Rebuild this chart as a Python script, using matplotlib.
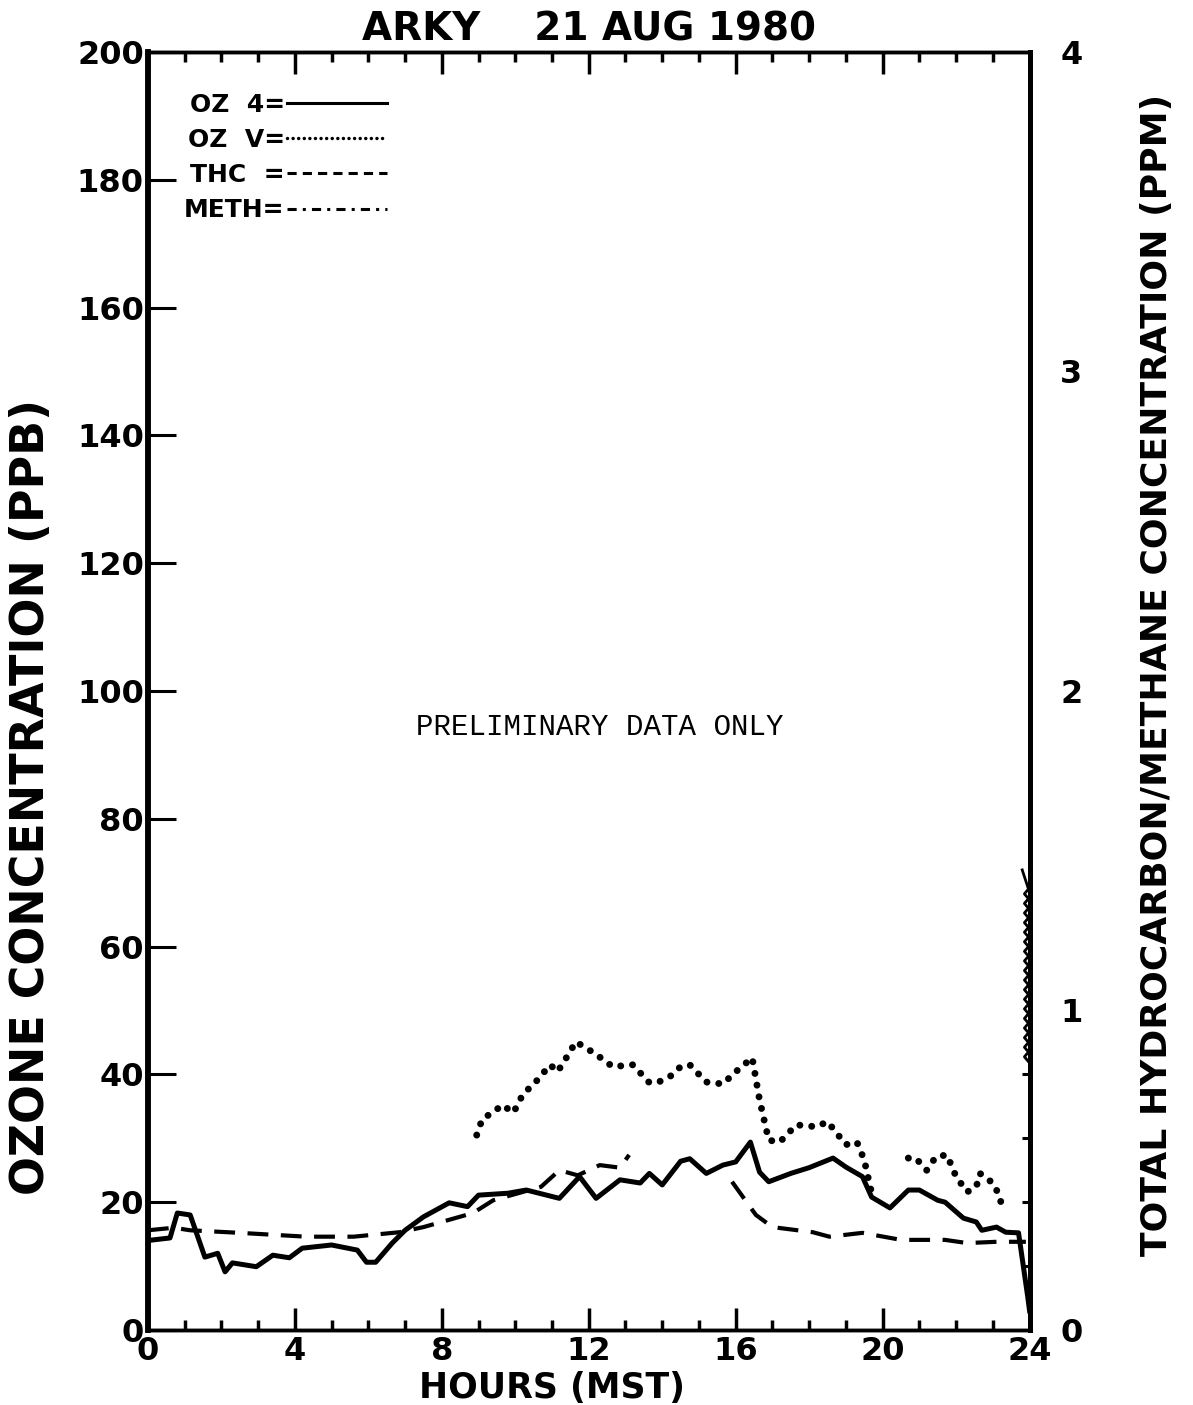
import numpy as np
import matplotlib.pyplot as plt
from matplotlib.lines import Line2D

# ozone, instrument 4 (ppb)
oz4_hours = [0, 0.6, 0.8, 1.15, 1.55, 1.9, 2.1, 2.3, 2.95, 3.4,
             3.85, 4.2, 5.0, 5.7, 5.95, 6.2, 6.65, 7.0, 7.5, 8.2,
             8.7, 9.0, 9.8, 10.3, 11.2, 11.75, 12.2, 12.85, 13.4, 13.65,
             14.0, 14.5, 14.75, 15.2, 15.65, 16.0, 16.4, 16.65, 16.9, 17.5,
             18.0, 18.65, 19.0, 19.45, 19.7, 20.2, 20.7, 21.0, 21.5, 21.7,
             22.2, 22.55, 22.7, 23.1, 23.35, 23.7, 23.95, 24.0]
oz4 = [14.0, 14.4, 18.3, 18.0, 11.4, 12.0, 9.1, 10.5, 9.9, 11.7,
       11.3, 12.8, 13.3, 12.5, 10.6, 10.6, 13.6, 15.6, 17.7, 19.9,
       19.3, 21.1, 21.4, 21.9, 20.6, 24.0, 20.6, 23.5, 23.0, 24.5,
       22.7, 26.4, 26.8, 24.5, 25.8, 26.3, 29.4, 24.7, 23.2, 24.5,
       25.4, 26.9, 25.5, 24.0, 20.8, 19.1, 21.9, 21.9, 20.3, 20.0,
       17.5, 16.9, 15.6, 16.1, 15.3, 15.2, 5.2, 3.0]

# ozone, instrument V (ppb)
ozv_hours = [8.95, 9.1, 9.4, 9.65, 9.95, 10.2, 10.6, 10.95, 11.15, 11.4, 11.65,
             12.1, 12.4, 12.65, 13.2, 13.65, 13.9, 14.2, 14.5, 14.75, 15.2,
             15.65, 16.0, 16.45, 16.65, 16.9, 17.2, 17.65, 18.2, 18.5, 18.75,
             19.0, 19.3, 19.5, 19.65, 19.75, 20.2, 20.7, 20.9, 21.2, 21.45,
             21.75, 22.0, 22.3, 22.55, 22.65, 23.0, 23.2, 23.25]
ozv = [30.5, 33.0, 34.1, 35.2, 34.0, 36.8, 39.1, 41.5, 40.4, 42.7, 45.1,
       43.5, 42.3, 41.2, 41.5, 38.7, 38.8, 39.6, 41.2, 41.5, 38.8,
       38.5, 40.4, 42.6, 36.0, 29.7, 29.4, 32.1, 31.8, 32.6, 30.8,
       29.0, 29.4, 26.6, 22.7, 20.3, np.nan, 26.9, 26.9, 25.0, 27.1,
       27.4, 24.0, 21.6, 22.4, 24.5, 23.0, 20.8, 18.5]

# total hydrocarbon (ppm)
thc_hours = [0, 0.7, 1.15, 2.5, 4.3, 5.6, 6.85, 7.5, 8.85, 9.4,
             10.7, 11.2, 11.7, 12.3, 12.85, 13.1, 14.5, 15.9, 16.55, 17.0,
             18.1, 18.55, 19.45, 20.5, 21.7, 22.3, 23.1, 23.65, 23.9]
thc = [0.312, 0.320, 0.312, 0.304, 0.292, 0.292, 0.306, 0.322, 0.366, 0.406,
       0.448, 0.500, 0.484, 0.516, 0.508, 0.548, np.nan, 0.464, 0.360, 0.322,
       0.306, 0.292, 0.304, 0.282, 0.282, 0.272, 0.276, 0.276, 0.276]

# methane (ppm), only the last minutes of the day
meth_hours = [23.97, 23.86, 23.97, 23.86, 23.97, 23.86, 23.97, 23.86, 23.97, 23.86,
              23.97, 23.86, 23.97, 23.86, 23.97, 23.86, 23.97, 23.86, 23.97, 23.86,
              23.97, 23.86, 23.97, 23.86, 23.97, 23.86, 23.97, 23.86, 23.97, 23.86,
              23.97, 23.86, 23.97, 23.86, 23.97, 23.86, 23.97, 23.80]
meth = [0.84, 0.855, 0.87, 0.885, 0.90, 0.915, 0.93, 0.945, 0.96, 0.975,
        0.99, 1.005, 1.02, 1.035, 1.05, 1.065, 1.08, 1.095, 1.11, 1.125,
        1.14, 1.155, 1.17, 1.185, 1.20, 1.215, 1.23, 1.245, 1.26, 1.275,
        1.29, 1.305, 1.32, 1.335, 1.35, 1.365, 1.38, 1.44]

hour_ticks = [0, 4, 8, 12, 16, 20, 24]
ppb_ticks = list(range(0, 201, 20))
ppm_ticks = [0, 1, 2, 3, 4]

tickfont = dict(family='DejaVu Sans', weight='bold', size=23)

fig = plt.figure(figsize=(11.93, 14.05), dpi=100)
ax = fig.add_axes([0.124, 0.0534, 0.739, 0.9096])
ax2 = ax.twinx()

ax.plot(oz4_hours, oz4, color='black', lw=3.6, solid_joinstyle='round')
ax.plot(ozv_hours, ozv, color='black', lw=5, linestyle=(0, (0.01, 1.7)),
        dash_capstyle='round')
ax2.plot(thc_hours, thc, color='black', lw=3.0, linestyle=(0, (5, 3)))
ax2.plot(meth_hours, meth, color='black', lw=2.0)

ax.set_xlim(0, 24)
ax.set_ylim(0, 200)
ax2.set_ylim(0, 4)

ax.set_xticks(hour_ticks)
ax.set_xticks(range(25), minor=True)
ax.set_yticks(ppb_ticks)
ax.set_xticklabels([str(h) for h in hour_ticks], fontdict=tickfont)
ax.set_yticklabels([str(v) for v in ppb_ticks], fontdict=tickfont)
ax.tick_params(axis='x', which='major', direction='in', length=16, width=2.5,
               top=True, pad=4)
ax.tick_params(axis='x', which='minor', direction='in', length=7, width=2.5,
               top=True)
ax.tick_params(axis='y', which='major', direction='in', length=20, width=2.2,
               pad=3)

ax2.set_yticks(ppm_ticks)
ax2.set_yticks([0.2, 0.4, 0.6, 0.8], minor=True)
ax2.set_yticklabels([str(v) for v in ppm_ticks], fontdict=tickfont)
ax2.tick_params(axis='y', which='major', length=0, pad=22)
ax2.tick_params(axis='y', which='minor', direction='in', length=6, width=2.2)

for a in (ax, ax2):
    a.spines['left'].set_linewidth(4)
    a.spines['bottom'].set_linewidth(2.5)
    a.spines['top'].set_linewidth(2.5)
    a.spines['right'].set_linewidth(3.5)

ax.set_xlabel('HOURS (MST)', fontsize=25, fontweight='bold')
ax.xaxis.set_label_coords(0.458, -0.032)
ax.set_ylabel('OZONE CONCENTRATION (PPB)', fontsize=33, fontweight='bold')
ax.yaxis.set_label_coords(-0.107, 0.417)
ax2.set_ylabel('TOTAL HYDROCARBON/METHANE CONCENTRATION (PPM)', fontsize=26,
               fontweight='bold')
ax2.yaxis.set_label_coords(1.125, 0.5125)
ax.set_title('ARKY    21 AUG 1980', fontsize=28, fontweight='bold', pad=8)

ax.text(12.3, 94.4, 'PRELIMINARY DATA ONLY', family='Liberation Mono',
        fontsize=21, ha='center', va='center')

handles = [Line2D([], [], color='black', lw=2.2),
           Line2D([], [], color='black', lw=2.5, linestyle=(0, (0.01, 1.6)),
                  dash_capstyle='round'),
           Line2D([], [], color='black', lw=2.2, linestyle=(0, (3, 2))),
           Line2D([], [], color='black', lw=2.2, linestyle=(0, (3, 2, 1, 2)))]
labels = ['OZ  4=', 'OZ  V=', 'THC  =', 'METH=']
ax2.legend(handles, labels, loc='upper left', bbox_to_anchor=(0.027, 0.978),
           markerfirst=False, frameon=False, handlelength=4.0,
           handletextpad=0.1, labelspacing=0.45, borderpad=0,
           prop=dict(family='DejaVu Sans', weight='bold', size=18))

fig.savefig('out.png', dpi=100)
